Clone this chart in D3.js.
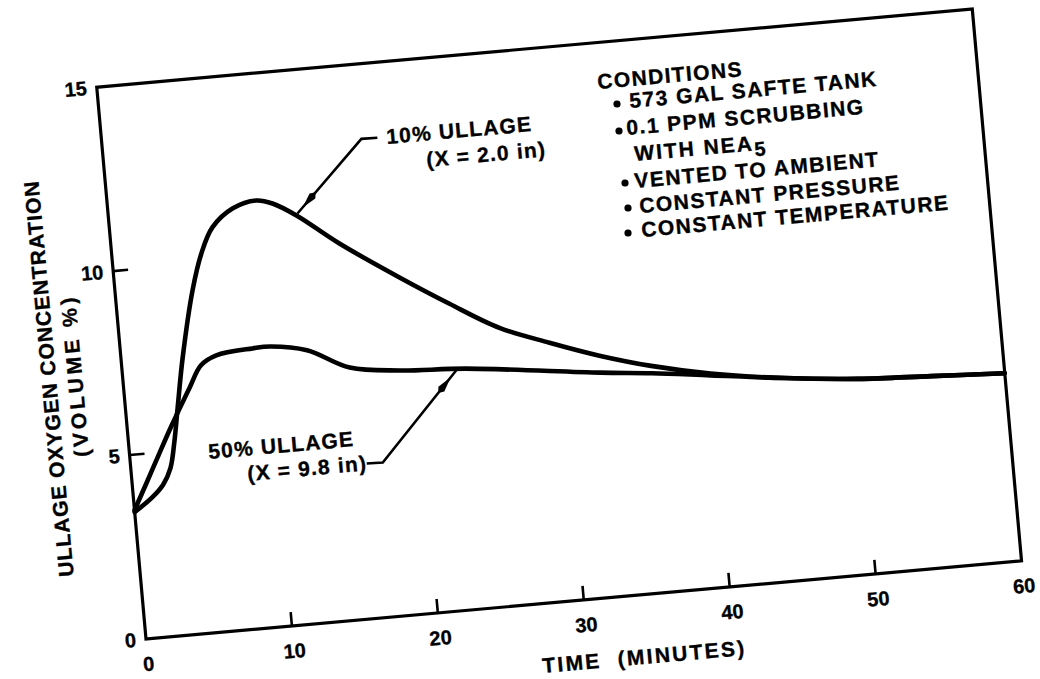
<!DOCTYPE html>
<html><head><meta charset="utf-8">
<script src="https://cdn.jsdelivr.net/npm/d3@7/dist/d3.min.js"></script>
<style>
html,body{margin:0;padding:0;background:#fff;}
svg{display:block;}
text{font-family:"Liberation Sans",Arial,Helvetica,sans-serif;font-weight:bold;fill:#000;stroke:#000;stroke-width:0.35px;}
</style></head>
<body>
<svg id="chart" width="1040" height="679"></svg>
<script>
// ---- data ----
const xTicks = [0, 10, 20, 30, 40, 50, 60];
const yTicks = [0, 5, 10, 15];
// 50% ullage (X = 9.8 in)
const timeA  = [0, 1, 2, 3, 3.5, 4.5, 5.4, 6.5, 9, 10.2, 12.7, 15.5, 18.9, 23.4, 32.5, 36, 40, 45, 50, 55, 60];
const valueA = [3.5, 4.22, 4.95, 5.67, 6.01, 6.68, 7.25, 7.48, 7.58, 7.59, 7.40, 6.83, 6.63, 6.52, 6.09, 5.95, 5.75, 5.5, 5.3, 5.2, 5.1];
// 10% ullage (X = 2.0 in)
const timeB  = [0, 1.3, 2.1, 2.7, 3.1, 3.56, 4.19, 5.28, 6.11, 7.01, 8.49, 10.17, 11.24, 12.8, 15.55, 19.43, 22.67, 25.92, 29.23, 32.55, 36, 40, 45, 50, 55, 60];
const valueB = [3.45, 3.81, 4.12, 4.55, 5.2, 6.17, 7.48, 9.29, 10.27, 10.94, 11.40, 11.56, 11.44, 11.06, 10.2, 9.14, 8.31, 7.54, 7.02, 6.55, 6.15, 5.8, 5.5, 5.3, 5.2, 5.1];
const seriesLabels = [["10% ULLAGE", "(X = 2.0 in)"], ["50% ULLAGE", "(X = 9.8 in)"]];
const conditionsTitle = "CONDITIONS";
const conditions = ["573 GAL SAFTE TANK", "0.1 PPM SCRUBBING", "VENTED TO AMBIENT", "CONSTANT PRESSURE", "CONSTANT TEMPERATURE"];
const xTitle = "TIME  (MINUTES)";
const yTitle = ["ULLAGE OXYGEN CONCENTRATION", "(VOLUME %)"];
// leader lines in data units [time, value]
const leaderB = [[18.77, 12.96], [17.68, 12.97], [12.88, 11.11]];
const leaderA = [[16.07, 4.20], [17.17, 4.19], [22.73, 6.5]];

// ---- layout ----
const ox = 146, oy = 639, W = 879, H = 554, ang = -5.1;
const a = ang * Math.PI / 180;
function toLocal(px, py) {
  const dx = px - ox, dy = py - oy;
  return [dx * Math.cos(a) + dy * Math.sin(a), -dx * Math.sin(a) + dy * Math.cos(a)];
}
const svg = d3.select("#chart");
const g = svg.append("g").attr("transform", `translate(${ox},${oy}) rotate(${ang})`);
const x = d3.scaleLinear().domain([0, 60]).range([0, W]);
const y = d3.scaleLinear().domain([0, 15]).range([0, -H]);

// frame
g.append("rect").attr("x", 0).attr("y", -H).attr("width", W).attr("height", H)
  .attr("fill", "none").attr("stroke", "#000").attr("stroke-width", 3.2);

// x axis ticks (inward) & labels
const xAxis = d3.axisBottom(x).tickValues(xTicks).tickSize(0).tickPadding(14);
const gx = g.append("g").call(xAxis);
gx.select(".domain").remove();
gx.selectAll("text").attr("font-size", 20).attr("dy", "0.9em").style("font-family", null);
g.selectAll(".xt").data(xTicks.filter(d => d > 0 && d < 60)).enter().append("line")
  .attr("x1", d => x(d)).attr("x2", d => x(d)).attr("y1", 0).attr("y2", -14)
  .attr("stroke", "#000").attr("stroke-width", 2.6);

const yAxis = d3.axisLeft(y).tickValues(yTicks).tickSize(0).tickPadding(10);
const gy = g.append("g").call(yAxis);
gy.select(".domain").remove();
gy.selectAll("text").attr("font-size", 20).style("font-family", null);
g.selectAll(".yt").data(yTicks.filter(d => d > 0 && d < 15)).enter().append("line")
  .attr("x1", 0).attr("x2", 15).attr("y1", d => y(d)).attr("y2", d => y(d))
  .attr("stroke", "#000").attr("stroke-width", 2.6);

// curves
const line = d3.line().x(d => x(d[0])).y(d => y(d[1])).curve(d3.curveCatmullRom.alpha(0.5));
const dataA = timeA.map((t, i) => [t, valueA[i]]);
const dataB = timeB.map((t, i) => [t, valueB[i]]);
[dataB, dataA].forEach(dd => {
  g.append("path").datum(dd).attr("d", line).attr("fill", "none")
    .attr("stroke", "#000").attr("stroke-width", 4.6).attr("stroke-linecap", "round").attr("stroke-linejoin", "round");
});

// leaders with arrowheads
const lin = d3.line().x(d => x(d[0])).y(d => y(d[1]));
function leader(pts, back) {
  g.append("path").attr("d", lin(pts)).attr("fill", "none").attr("stroke", "#000").attr("stroke-width", 2.6);
  const p1 = pts[pts.length - 2], p2 = pts[pts.length - 1];
  const X1 = x(p1[0]), Y1 = y(p1[1]), X2 = x(p2[0]), Y2 = y(p2[1]);
  const L = Math.hypot(X2 - X1, Y2 - Y1), ux = (X2 - X1) / L, uy = (Y2 - Y1) / L;
  const tx = X2 - ux * back, ty = Y2 - uy * back; // tip
  const bx = tx - ux * 15, by = ty - uy * 15;
  const nx = -uy, ny = ux;
  g.append("path").attr("d", `M${tx},${ty} L${bx + nx * 3.8},${by + ny * 3.8} L${bx - ux * 5},${by - uy * 5} L${bx - nx * 3.8},${by - ny * 3.8} Z`)
    .attr("fill", "#000");
}
leader(leaderB, 8);
leader(leaderA, 9);

// text helper
function txt(px, py, s, size, ls, anchor) {
  const p = toLocal(px, py);
  return g.append("text").attr("x", p[0]).attr("y", p[1]).attr("font-size", size)
    .attr("letter-spacing", ls || 0).attr("text-anchor", anchor || "start").text(s);
}
// series labels
txt(387, 144, seriesLabels[0][0], 21, 1.2);
txt(427, 167, seriesLabels[0][1], 21, 1.2);
txt(209, 459, seriesLabels[1][0], 21, 1.2);
txt(248, 481, seriesLabels[1][1], 21, 1.2);

// conditions
txt(598, 89, conditionsTitle, 21, 1.4);
const condPos = [[630, 108, 617, 104], [627, 135, 619, 131], [635, 188, 625, 183], [640, 213, 628, 208], [642, 237, 628, 233]];
conditions.forEach((c, i) => {
  const cp = condPos[i];
  txt(cp[0], cp[1], c, 21, 1.5);
  const b = toLocal(cp[2], cp[3]);
  g.append("circle").attr("cx", b[0]).attr("cy", b[1]).attr("r", 3.6).attr("fill", "#000");
});
const wn = txt(635, 161, "WITH NEA", 21, 2);
wn.append("tspan").attr("dy", 6).attr("font-size", 20).text("5");

// axis titles
const xt = toLocal(645, 664);
g.append("text").attr("x", xt[0]).attr("y", xt[1]).attr("font-size", 21).attr("letter-spacing", 2.3)
  .attr("text-anchor", "middle").attr("xml:space", "preserve").style("white-space", "pre").text(xTitle);
const yt1 = toLocal(56, 378), yt2 = toLocal(82, 375);
g.append("text").attr("transform", `translate(${yt1[0]},${yt1[1]}) rotate(-90)`).attr("font-size", 21)
  .attr("letter-spacing", 1).attr("text-anchor", "middle").text(yTitle[0]);
g.append("text").attr("transform", `translate(${yt2[0]},${yt2[1]}) rotate(-90)`).attr("font-size", 21)
  .attr("letter-spacing", 3.5).attr("text-anchor", "middle").text(yTitle[1]);
</script>
</body></html>
